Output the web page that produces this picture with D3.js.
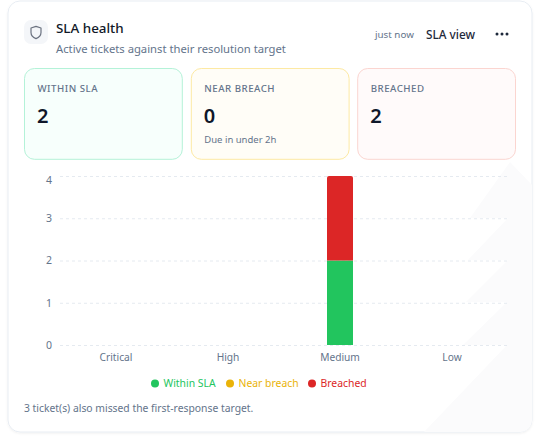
<!DOCTYPE html>
<html>
<head>
<meta charset="utf-8">
<script src="https://cdn.jsdelivr.net/npm/d3@7/dist/d3.min.js"></script>
<style>
html,body{margin:0;padding:0;background:#fff;}
svg{display:block;}
text{font-family:"Noto Sans",sans-serif;}
</style>
</head>
<body>
<div id="chart"></div>
<script>
const categories = ["Critical","High","Medium","Low"];
const seriesNames = ["Within SLA","Near breach","Breached"];
const withinSla = [0,0,2,0];
const nearBreach = [0,0,0,0];
const breached = [0,0,2,0];
const yTicks = [0,1,2,3,4];
const seriesColors = ["#22c55e","#eab308","#dc2626"];
const kpiLabels = ["WITHIN SLA","NEAR BREACH","BREACHED"];
const kpiValues = [2,0,2];
const kpiNotes = ["","Due in under 2h",""];
const kpiFills = ["#f7fffc","#fffdf7","#fffafa"];
const kpiStrokes = ["#b4f2d8","#fde9a3","#fbd5d0"];

const svg = d3.select("#chart").append("svg").attr("width",541).attr("height",441);

// card
const defs = svg.append("defs");
const shadow = defs.append("filter").attr("id","sh").attr("x","-5%").attr("y","-5%").attr("width","110%").attr("height","110%");
shadow.append("feDropShadow").attr("dx",0).attr("dy",1).attr("stdDeviation",1.2).attr("flood-color","#0f172a").attr("flood-opacity",0.06);
defs.append("clipPath").attr("id","cardClip").append("rect")
  .attr("x",8).attr("y",1).attr("width",524).attr("height",431).attr("rx",12);

svg.append("rect").attr("x",8).attr("y",1).attr("width",524).attr("height",431).attr("rx",12)
  .attr("fill","#fff").attr("stroke","#e8edf3").attr("filter","url(#sh)");

// faint sawtooth decoration, bottom right
svg.append("g").attr("clip-path","url(#cardClip)").append("path")
  .attr("d","M510,162 L532,185 L532,432 L424,432 L507,345 L463,345 L507,302 L466,302 L508,260 L468,260 L508,218 L470,218 Z")
  .attr("fill","#fbfbfc");

// header
svg.append("rect").attr("x",24).attr("y",20).attr("width",24).attr("height",24).attr("rx",7).attr("fill","#f4f6f9");
svg.append("path")
  .attr("transform","translate(30,26)")
  .attr("d","M6 0.4 L11 2 V6.4 C11 9.6 8.8 11.4 6 12.6 C3.2 11.4 1 9.6 1 6.4 V2 Z")
  .attr("fill","none").attr("stroke","#6b7280").attr("stroke-width",1.2).attr("stroke-linejoin","round");
svg.append("text").attr("x",56).attr("y",33).attr("font-size",13.4).attr("font-weight",500).attr("fill","#111827").text("SLA health");
svg.append("text").attr("x",56).attr("y",53).attr("font-size",11.25).attr("fill","#64748b").text("Active tickets against their resolution target");
svg.append("text").attr("x",375).attr("y",37.5).attr("font-size",9.8).attr("fill","#64748b").text("just now");
svg.append("text").attr("x",426).attr("y",39).attr("font-size",11.8).attr("font-weight",500).attr("fill","#1e293b").text("SLA view");
svg.selectAll("circle.dot").data([497,502,507]).enter().append("circle").attr("class","dot")
  .attr("cx",d=>d).attr("cy",34).attr("r",1.5).attr("fill","#1e293b");

// kpi tiles
const tile = svg.selectAll("g.tile").data(kpiLabels).enter().append("g").attr("class","tile")
  .attr("transform",(d,i)=>`translate(${[24.5,191.3,357.7][i]},68.5)`);
tile.append("rect").attr("width",157.8).attr("height",90.8).attr("rx",10)
  .attr("fill",(d,i)=>kpiFills[i]).attr("stroke",(d,i)=>kpiStrokes[i]);
tile.append("text").attr("x",13).attr("y",23.5).attr("font-size",9.7).attr("font-weight",500)
  .attr("letter-spacing",0.5).attr("fill","#64748b").text(d=>d);
tile.append("text").attr("x",12.5).attr("y",54).attr("font-size",20).attr("font-weight",600)
  .attr("fill","#0f172a").text((d,i)=>kpiValues[i]);
tile.append("text").attr("x",13).attr("y",74.5).attr("font-size",9.5).attr("fill","#64748b").text((d,i)=>kpiNotes[i]);

// plot
const x = d3.scaleBand().domain(categories).range([60,508]);
const y = d3.scaleLinear().domain([0,4]).range([345,176]);

const gy = svg.append("g").attr("transform","translate(60,0)")
  .call(d3.axisLeft(y).tickValues(yTicks).tickSize(-447).tickPadding(8).tickFormat(d3.format("d")));
gy.select(".domain").remove();
gy.selectAll("line").attr("stroke","#e5eaf0").attr("stroke-dasharray","3 3");
gy.selectAll("text").attr("font-size",10.5).attr("fill","#64748b").style("font-family",'"Noto Sans",sans-serif')
  .attr("dy",d=>d===4 ? "0.72em" : "0.32em");

const gx = svg.append("g").attr("transform","translate(0,345)")
  .call(d3.axisBottom(x).tickSize(0).tickPadding(9));
gx.select(".domain").remove();
gx.selectAll("text").attr("font-size",10.2).attr("fill","#64748b").style("font-family",'"Noto Sans",sans-serif');

// bars
const table = categories.map((c,i)=>({category:c,within:withinSla[i],near:nearBreach[i],breached:breached[i]}));
const stacked = d3.stack().keys(["within","near","breached"])(table);
const barWidth = 26;
stacked.forEach((s,si)=>{
  svg.append("g").selectAll("path").data(s.filter(d=>d[1]>d[0])).enter().append("path")
    .attr("fill",seriesColors[si])
    .attr("d",d=>{
      const x0 = x(d.data.category)+x.bandwidth()/2-barWidth/2;
      const yt = y(d[1]), yb = y(d[0]);
      const r = si===2 ? 2 : 0;
      return `M${x0},${yb} V${yt+r} Q${x0},${yt} ${x0+r},${yt} H${x0+barWidth-r} Q${x0+barWidth},${yt} ${x0+barWidth},${yt+r} V${yb} Z`;
    });
});

// legend
const legendX = [155,230,312];
const lg = svg.selectAll("g.lg").data(seriesNames).enter().append("g").attr("class","lg")
  .attr("transform",(d,i)=>`translate(${legendX[i]},383.5)`);
lg.append("circle").attr("r",4).attr("fill",(d,i)=>seriesColors[i]);
lg.append("text").attr("x",8.5).attr("y",3.6).attr("font-size",10.4).attr("fill",(d,i)=>seriesColors[i]).text(d=>d);

svg.append("text").attr("x",24).attr("y",412).attr("font-size",10.35).attr("fill","#64748b")
  .text("3 ticket(s) also missed the first-response target.");
</script>
</body>
</html>
